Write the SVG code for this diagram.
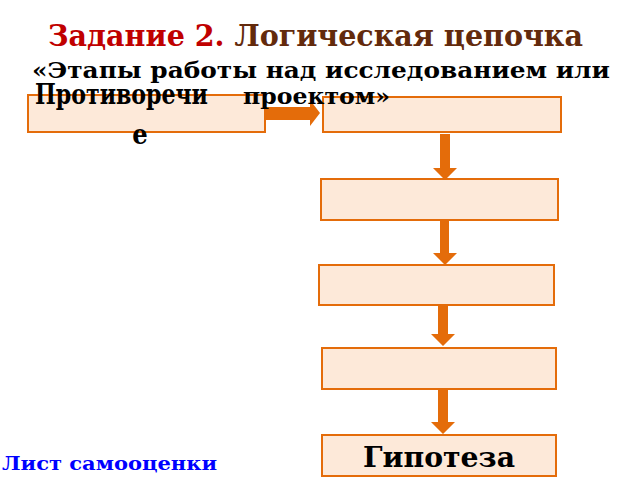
<svg xmlns="http://www.w3.org/2000/svg" width="640" height="480" viewBox="0 0 640 480">
<style>
.box{fill:#FDE9D9;stroke:#E46C0A;stroke-width:2}
.arr{fill:#E46C0A}
.t{font-family:"DejaVu Serif","Liberation Serif",serif;font-weight:bold;font-stretch:condensed}
</style>
<rect width="640" height="480" fill="#ffffff"/>
<text class="t" x="48" y="46" font-size="30" textLength="535" lengthAdjust="spacingAndGlyphs"><tspan fill="#C00000">Задание 2. </tspan><tspan fill="#632A0C">Логическая цепочка</tspan></text>
<g id="connectors">
<polygon class="arr" points="265,107 310,107 310,100 320,113 310,126 310,120 265,120"/>
<polygon class="arr" points="440,134 450,134 450,168 457,168 445,180 433,168 440,168"/>
<polygon class="arr" points="440,221 449,221 449,253 457,253 445,265 433,253 440,253"/>
<polygon class="arr" points="438,306 448,306 448,334 455,334 443,346 431,334 438,334"/>
<polygon class="arr" points="438,390 448,390 448,422 455,422 443,434 431,422 438,422"/>
</g>
<g id="n1"><rect class="box" x="28" y="95" width="237" height="37"/></g>
<g id="n2"><rect class="box" x="323" y="97" width="238" height="35"/></g>
<g id="n3"><rect class="box" x="321" y="179" width="237" height="41"/></g>
<g id="n4"><rect class="box" x="319" y="265" width="235" height="40"/></g>
<g id="n5"><rect class="box" x="322" y="348" width="234" height="41"/></g>
<g id="n6"><rect class="box" x="322" y="435" width="234" height="41"/>
<text class="t" x="439" y="467" font-size="27" text-anchor="middle" fill="#000" textLength="152" lengthAdjust="spacingAndGlyphs">Гипотеза</text></g>
<text class="t" x="32" y="78" font-size="23" textLength="578" lengthAdjust="spacingAndGlyphs" fill="#000">«Этапы работы над исследованием или</text>
<text class="t" x="243" y="104" font-size="23" textLength="147" lengthAdjust="spacingAndGlyphs" fill="#000">проектом»</text>
<text class="t" x="35" y="104" font-size="27" textLength="173" lengthAdjust="spacingAndGlyphs" fill="#000">Противоречи</text>
<text class="t" x="140" y="144" font-size="27" text-anchor="middle" fill="#000">е</text>
<text class="t" x="2" y="470" font-size="19" textLength="215" lengthAdjust="spacingAndGlyphs" fill="#0000FF">Лист самооценки</text>
</svg>
